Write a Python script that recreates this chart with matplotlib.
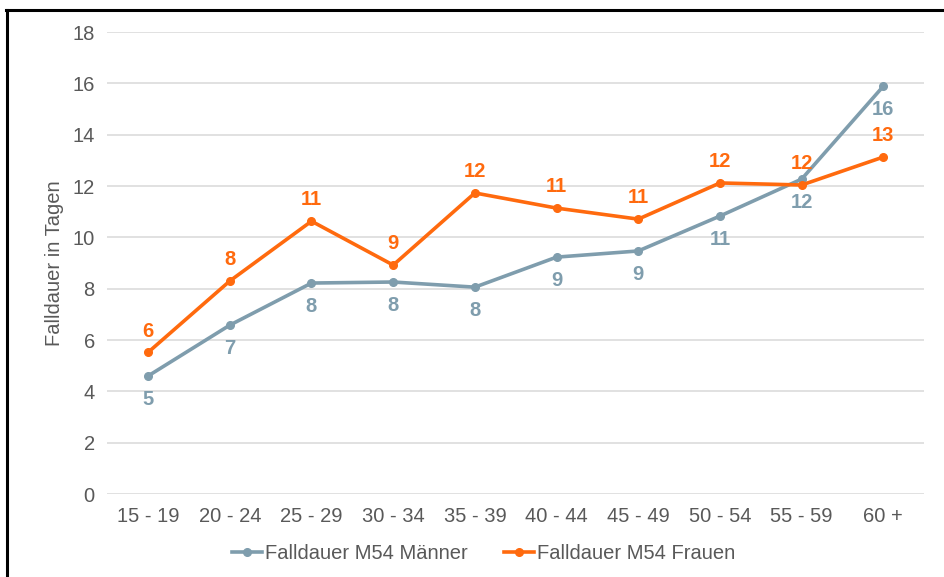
import matplotlib
matplotlib.use("Agg")
import matplotlib.pyplot as plt
from matplotlib.lines import Line2D

plt.rcParams['font.family'] = ['Liberation Sans', 'DejaVu Sans']

# Daten
altersgruppen = ['15 - 19', '20 - 24', '25 - 29', '30 - 34', '35 - 39',
                 '40 - 44', '45 - 49', '50 - 54', '55 - 59', '60 +']
maenner = [4.6, 6.58, 8.22, 8.26, 8.06, 9.23, 9.47, 10.83, 12.27, 15.89]
frauen = [5.52, 8.30, 10.63, 8.92, 11.73, 11.14, 10.71, 12.12, 12.04, 13.13]
y_ticks = [0, 2, 4, 6, 8, 10, 12, 14, 16, 18]

farbe_m = '#7F9DAD'
farbe_f = '#FF6A0E'
grau = '#595959'

fig = plt.figure(figsize=(9.45, 5.77), dpi=100)
ax = fig.add_axes([0.1135, 0.1438, 0.8645, 0.8007])

x = range(len(altersgruppen))
ax.plot(x, maenner, color=farbe_m, linewidth=2.6, marker='o', markersize=5.5,
        label='Falldauer M54 Männer', zorder=3)
ax.plot(x, frauen, color=farbe_f, linewidth=2.6, marker='o', markersize=5.5,
        label='Falldauer M54 Frauen', zorder=4)

# Datenbeschriftungen (gerundet)
for i, (m, f) in enumerate(zip(maenner, frauen)):
    ax.annotate(f'{m:.0f}', (i, m), xytext=(0, -10), textcoords='offset points',
                ha='center', va='top', color=farbe_m, fontsize=14.5, fontweight='bold')
    ax.annotate(f'{f:.0f}', (i, f), xytext=(0, 8.5), textcoords='offset points',
                ha='center', va='bottom', color=farbe_f, fontsize=14.5, fontweight='bold')

ax.set_xlim(-0.5, len(altersgruppen) - 0.5)
ax.set_ylim(0, 18)
ax.set_yticks(y_ticks)
ax.set_xticks(list(x))
ax.set_xticklabels(altersgruppen)
ax.tick_params(axis='both', length=0, labelsize=14.5, colors=grau, pad=9)
ax.yaxis.grid(True, color='#D9D9D9', linewidth=1.1)
ax.set_axisbelow(True)
for s in ax.spines.values():
    s.set_visible(False)
ax.set_ylabel('Falldauer in Tagen', fontsize=14.5, color=grau, labelpad=6)

leg = fig.legend(loc='center', bbox_to_anchor=(0.512, 0.041), ncol=2, frameon=False,
                 fontsize=14.5, handlelength=1.5, columnspacing=1.8, handletextpad=0.15)
for t in leg.get_texts():
    t.set_color(grau)

# Rahmen oben und links
fig.add_artist(Line2D([0.0065, 1.0], [0.9827, 0.9827], color='black', linewidth=2.2,
                      transform=fig.transFigure))
fig.add_artist(Line2D([0.0075, 0.0075], [0.0, 0.9827], color='black', linewidth=2.2,
                      transform=fig.transFigure))

fig.savefig('out.png', dpi=100)
